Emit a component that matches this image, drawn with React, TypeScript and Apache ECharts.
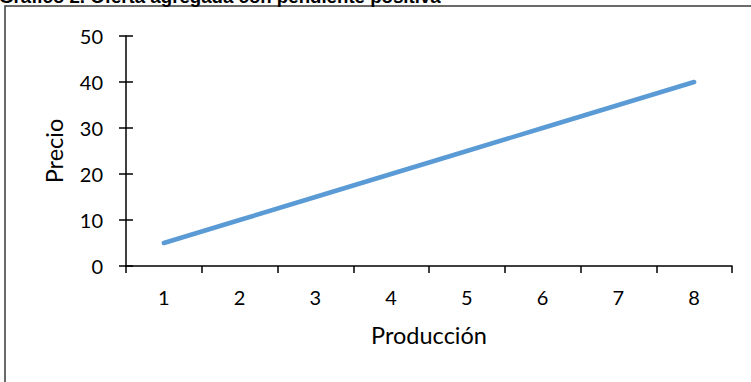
import React, { useEffect, useRef } from "react";
import * as echarts from "echarts";

const titleText = "Gráfico 2. Oferta agregada con pendiente positiva";
const categories = ["1", "2", "3", "4", "5", "6", "7", "8"];
const precio = [5, 10, 15, 20, 25, 30, 35, 40];
const yMin = 0;
const yMax = 50;
const yInterval = 10;

export default function App() {
  const ref = useRef<HTMLDivElement>(null);
  useEffect(() => {
    if (!ref.current) return;
    const chart = echarts.init(ref.current, null, { renderer: "svg" });
    const font = "Lato, 'Noto Sans', sans-serif";
    chart.setOption({
      animation: false,
      backgroundColor: "#ffffff",
      grid: { left: 126, right: 19, top: 36, bottom: 116, containLabel: false },
      graphic: [
        {
          type: "rect",
          shape: { x: 5, y: 6, width: 800, height: 420 },
          style: { fill: "none", stroke: "#3a3a3a", lineWidth: 1.5 },
          z: 0,
        },
        {
          type: "text",
          x: -1,
          y: 6,
          style: {
            text: titleText,
            font: "bold 18.67px 'Liberation Sans', Arial, sans-serif",
            fill: "#000000",
            textAlign: "left",
            textVerticalAlign: "bottom",
          },
        },
      ],
      xAxis: {
        type: "category",
        data: categories,
        boundaryGap: true,
        name: "Producción",
        nameLocation: "middle",
        nameGap: 57,
        nameTextStyle: { fontFamily: font, fontSize: 23.5, color: "#000" },
        axisLine: { show: true, lineStyle: { color: "#000", width: 1.5 } },
        axisTick: { show: true, inside: false, length: 7, alignWithLabel: false, lineStyle: { color: "#000", width: 1.5 } },
        axisLabel: { margin: 21, fontFamily: font, fontSize: 20, color: "#000" },
        splitLine: { show: false },
      },
      yAxis: [
        {
          type: "value",
          min: yMin,
          max: yMax,
          interval: yInterval,
          name: "Precio",
          nameLocation: "middle",
          nameGap: 60,
          nameTextStyle: { fontFamily: font, fontSize: 23.5, color: "#000" },
          axisLine: { show: true, lineStyle: { color: "#000", width: 1.5 } },
          axisTick: { show: true, inside: false, length: 7, lineStyle: { color: "#000", width: 1.5 } },
          axisLabel: { margin: 23, fontFamily: font, fontSize: 20, color: "#000" },
          splitLine: { show: false },
        },
        {
          type: "value",
          position: "left",
          offset: 0,
          min: yMin,
          max: yMax,
          interval: yInterval,
          axisLine: { show: false },
          axisTick: { show: true, inside: true, length: 7, lineStyle: { color: "#000", width: 1.5 } },
          axisLabel: { show: false },
          splitLine: { show: false },
        },
      ],
      series: [
        {
          type: "line",
          data: precio,
          yAxisIndex: 0,
          symbol: "none",
          showSymbol: false,
          lineStyle: { color: "#5B9BD5", width: 4.5, cap: "round" },
        },
      ],
    });
    return () => chart.dispose();
  }, []);
  return (
    <div
      ref={ref}
      style={{ position: "absolute", left: 0, top: 0, width: 751, height: 382 }}
    />
  );
}
